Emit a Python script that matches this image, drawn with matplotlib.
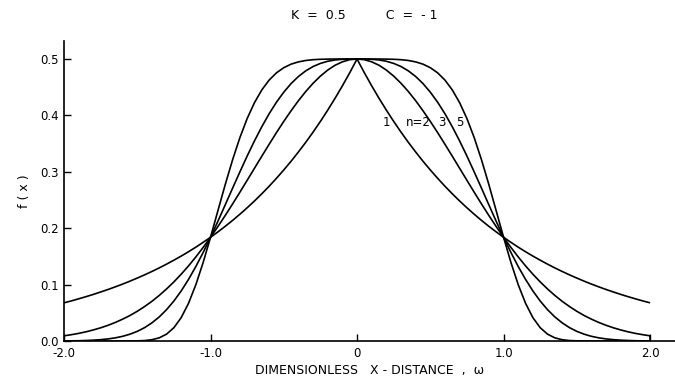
import numpy as np
import matplotlib
matplotlib.use("Agg")
import matplotlib.pyplot as plt

# half-curves (x >= 0), the chart is symmetric about x = 0
x_half = np.round(np.arange(0, 2.001, 0.05), 2)
f_n1 = [0.5000, 0.4756, 0.4524, 0.4304, 0.4094, 0.3894, 0.3704, 0.3523, 0.3352, 0.3188,
        0.3033, 0.2885, 0.2744, 0.2610, 0.2483, 0.2362, 0.2247, 0.2137, 0.2033, 0.1934,
        0.1839, 0.1750, 0.1664, 0.1583, 0.1506, 0.1433, 0.1363, 0.1296, 0.1233, 0.1173,
        0.1116, 0.1061, 0.1009, 0.0960, 0.0913, 0.0869, 0.0826, 0.0786, 0.0748, 0.0711,
        0.0677]
f_n2 = [0.5000, 0.4988, 0.4950, 0.4889, 0.4804, 0.4697, 0.4570, 0.4424, 0.4261, 0.4083,
        0.3894, 0.3695, 0.3488, 0.3277, 0.3063, 0.2849, 0.2636, 0.2428, 0.2224, 0.2028,
        0.1839, 0.1660, 0.1491, 0.1332, 0.1185, 0.1048, 0.0923, 0.0808, 0.0704, 0.0611,
        0.0527, 0.0452, 0.0387, 0.0329, 0.0278, 0.0234, 0.0196, 0.0163, 0.0135, 0.0112,
        0.0092]
f_n3 = [0.5000, 0.5000, 0.4995, 0.4983, 0.4960, 0.4922, 0.4867, 0.4790, 0.4690, 0.4565,
        0.4412, 0.4234, 0.4029, 0.3799, 0.3548, 0.3279, 0.2996, 0.2706, 0.2412, 0.2121,
        0.1839, 0.1571, 0.1321, 0.1093, 0.0888, 0.0709, 0.0556, 0.0427, 0.0322, 0.0237,
        0.0171, 0.0121, 0.0083, 0.0056, 0.0037, 0.0024, 0.0015, 0.0009, 0.0005, 0.0003,
        0.0002]
f_n5 = [0.5000, 0.5000, 0.5000, 0.5000, 0.4998, 0.4995, 0.4988, 0.4974, 0.4949, 0.4909,
        0.4846, 0.4755, 0.4626, 0.4452, 0.4226, 0.3944, 0.3603, 0.3208, 0.2770, 0.2306,
        0.1839, 0.1395, 0.0999, 0.0669, 0.0415, 0.0236, 0.0122, 0.0056, 0.0023, 0.0008,
        0.0003, 0.0001, 0.0000, 0.0000, 0.0000, 0.0000, 0.0000, 0.0000, 0.0000, 0.0000,
        0.0000]
series = [f_n1, f_n2, f_n3, f_n5]
curve_labels = ["1", "n=2", "3", "5"]
label_x = [0.20, 0.42, 0.58, 0.70]
label_y = 0.387

x_ticks = [-2.0, -1.0, 0.0, 1.0, 2.0]
x_ticklabels = ["-2.0", "-1.0", "0", "1.0", "2.0"]
y_ticks = [0.0, 0.1, 0.2, 0.3, 0.4, 0.5]
y_ticklabels = ["0.0", "0.1", "0.2", "0.3", "0.4", "0.5"]

plt.rcParams['font.family'] = ['DejaVu Sans']

fig = plt.figure(figsize=(6.75, 3.8), dpi=100)
ax = fig.add_axes([0.0948, 0.1026, 0.9052, 0.7896])

for f in series:
    f = np.asarray(f)
    xs = np.concatenate([-x_half[:0:-1], x_half])
    ys = np.concatenate([f[:0:-1], f])
    ax.plot(xs, ys, color='black', lw=1.2, solid_capstyle='butt')
# vertical end of n=2 curve at the right limit
ax.vlines(x_half[-1], 0, f_n2[-1], color='black', lw=1.2)

for t, lx in zip(curve_labels, label_x):
    ax.text(lx, label_y, t, ha='center', va='center', fontsize=8.5)

ax.set_xlim(-2.0, 2.17)
ax.set_ylim(0.0, 0.532)
ax.set_xticks(x_ticks)
ax.set_xticklabels(x_ticklabels)
ax.set_yticks(y_ticks)
ax.set_yticklabels(y_ticklabels)
ax.tick_params(direction='in', length=5, width=1, labelsize=8.5, pad=4)
for s in ['top', 'right']:
    ax.spines[s].set_visible(False)
for s in ['left', 'bottom']:
    ax.spines[s].set_linewidth(1.2)

ax.set_xlabel("DIMENSIONLESS   X - DISTANCE  ,  ω", fontsize=9, labelpad=3)
ax.set_ylabel("f ( x )", fontsize=9, labelpad=6)
fig.text(0.54, 0.96, "K  =  0.5          C  =  - 1", ha='center', va='center', fontsize=9)

fig.savefig("out.png", dpi=100)
